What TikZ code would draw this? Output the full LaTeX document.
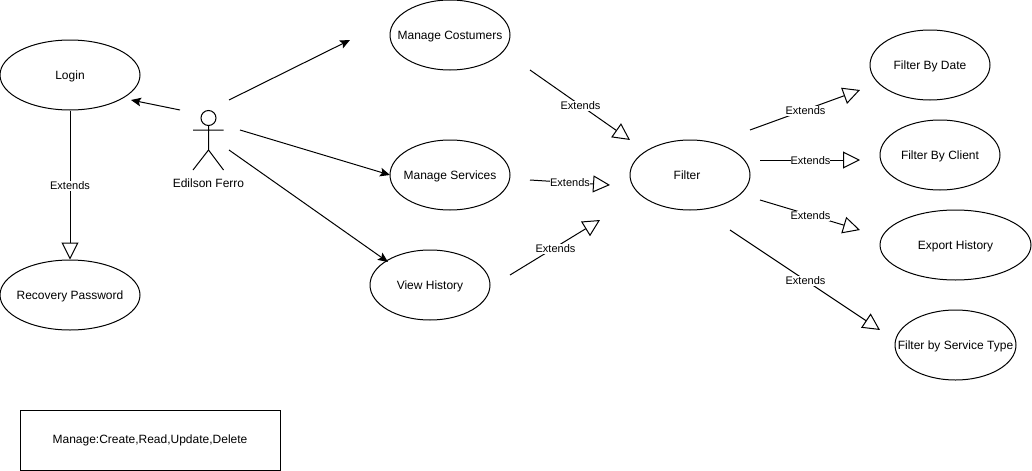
\documentclass[tikz,border=0pt]{standalone}
\usepackage{fontspec}
\setmainfont{Liberation Sans}
\usetikzlibrary{arrows.meta,shapes.geometric}
\newcommand{\uctext}[1]{\raisebox{-3pt}[0pt][0pt]{\makebox[0pt]{#1}}}
\tikzset{
  x=0.75pt,y=-0.75pt,
  every node/.style={font=\fontsize{9pt}{11pt}\selectfont,inner sep=0pt},
  usecase/.style={draw=black,line width=0.75pt,ellipse,minimum width=#1*0.75pt,minimum height=52.5pt},
  usecase/.default=120,
  outline/.style={line width=0.75pt,draw=black},
  assoc/.style={outline,-{Stealth[length=7.5pt,width=6.5pt,inset=1.5pt]}},
  extends/.style={outline,-{Triangle[open,fill=white,length=12.75pt,width=12.75pt]}},
  extlabel/.style={fill=white,inner xsep=0pt,inner ysep=1pt,yshift=-0.75pt,font=\fontsize{8.25pt}{10pt}\selectfont}
}
\begin{document}
\begin{tikzpicture}
\useasboundingbox (0,0) rectangle (1032,471);
% use cases
\node[usecase=140] (login) at (70,75) {\uctext{Login}};
\node[usecase=140] (recovery) at (70,295) {\uctext{Recovery Password}};
\node[usecase] (costumers) at (450,35) {\uctext{Manage Costumers}};
\node[usecase] (services) at (450,175) {\uctext{Manage Services}};
\node[usecase] (history) at (430,285) {\uctext{View History}};
\node[usecase] (filter) at (690,175) {\uctext{\kern-4.5pt Filter}};
\node[usecase] (fdate) at (930,65) {\uctext{Filter By Date}};
\node[usecase] (fclient) at (940,155) {\uctext{Filter By Client}};
\node[usecase=151] (export) at (955.5,245) {\uctext{Export History}};
\node[usecase=121] (ftype) at (955.5,345) {\uctext{Filter by Service Type}};
\node[draw=black,line width=0.75pt,minimum width=195pt,minimum height=45pt] (note) at (150,440) {Manage:Create,Read,Update,Delete};
% actor
\node[draw=black,line width=0.75pt,circle,minimum size=11.25pt] (head) at (208.5,118) {};
\coordinate (hip) at (208.5,150);
\coordinate (armL) at (193,130);
\coordinate (armR) at (223.5,130);
\coordinate (legL) at (193,170);
\coordinate (legR) at (223.5,170);
\draw[outline] (head.south) -- (hip) (armL) -- (armR) (legL) -- (hip) -- (legR);
\node (actor) at (208.5,183) {Edilson Ferro};
% free ends
\coordinate (a1s) at (180,110); \coordinate (a1e) at (131,100);
\coordinate (a2s) at (229,100); \coordinate (a2e) at (350,40);
\coordinate (a3s) at (240,130); \coordinate (a3e) at (390,175);
\coordinate (a4s) at (229,150); \coordinate (a4e) at (388,262);
\coordinate (e1s) at (530,70);  \coordinate (e1e) at (630,140);
\coordinate (e2s) at (530,180); \coordinate (e2e) at (610,185);
\coordinate (e3s) at (510,275); \coordinate (e3e) at (600,220);
\coordinate (e4s) at (750,130); \coordinate (e4e) at (860,90);
\coordinate (e5s) at (760,160); \coordinate (e5e) at (860,160);
\coordinate (e6s) at (760,200); \coordinate (e6e) at (860,230);
\coordinate (e7s) at (730,230); \coordinate (e7e) at (880,330);
% associations
\draw[assoc] (a1s) -- (a1e);
\draw[assoc] (a2s) -- (a2e);
\draw[assoc] (a3s) -- (a3e);
\draw[assoc] (a4s) -- (a4e);
% extends
\draw[extends] (login) -- (recovery);
\node[extlabel] (l0) at (70,185) {Extends};
\draw[extends] (e1s) -- (e1e);
\node[extlabel] (l1) at (580.5,105) {Extends};
\draw[extends] (e2s) -- (e2e);
\node[extlabel] (l2) at (570,182) {Extends};
\draw[extends] (e3s) -- (e3e);
\node[extlabel] (l3) at (555.5,248) {Extends};
\draw[extends] (e4s) -- (e4e);
\node[extlabel] (l4) at (805.5,110) {Extends};
\draw[extends] (e5s) -- (e5e);
\node[extlabel] (l5) at (810.5,160) {Extends};
\draw[extends] (e6s) -- (e6e);
\node[extlabel] (l6) at (810.5,215) {Extends};
\draw[extends] (e7s) -- (e7e);
\node[extlabel] (l7) at (805.5,280) {Extends};
\end{tikzpicture}
\end{document}
